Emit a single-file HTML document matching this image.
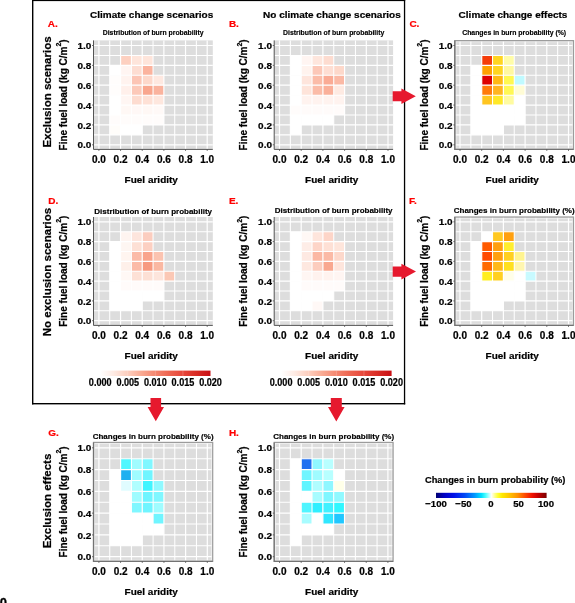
<!DOCTYPE html><html><head><meta charset="utf-8"><style>html,body{margin:0;padding:0;background:#fff;overflow:hidden}svg{display:block;will-change:transform}</style></head><body>
<svg width="575" height="603" viewBox="0 0 575 603" font-family='"Liberation Sans", sans-serif' font-weight="bold">
<defs>
<linearGradient id="gred" x1="0" x2="1" y1="0" y2="0"><stop offset="0" stop-color="#FFFFFF"/><stop offset="0.12" stop-color="#FEEBE4"/><stop offset="0.25" stop-color="#FCCDBD"/><stop offset="0.37" stop-color="#F9AB94"/><stop offset="0.5" stop-color="#F4866F"/><stop offset="0.62" stop-color="#EE6550"/><stop offset="0.75" stop-color="#E6463A"/><stop offset="0.88" stop-color="#D82A24"/><stop offset="1" stop-color="#C80E14"/></linearGradient>
<linearGradient id="gchg" x1="0" x2="1" y1="0" y2="0"><stop offset="0" stop-color="#000070"/><stop offset="0.07" stop-color="#0000C0"/><stop offset="0.16" stop-color="#0010E8"/><stop offset="0.26" stop-color="#0048F5"/><stop offset="0.35" stop-color="#0098FF"/><stop offset="0.41" stop-color="#00E0FF"/><stop offset="0.45" stop-color="#50FFFF"/><stop offset="0.5" stop-color="#FFFFFF"/><stop offset="0.53" stop-color="#FFFF90"/><stop offset="0.56" stop-color="#FFFF30"/><stop offset="0.6" stop-color="#FFE800"/><stop offset="0.67" stop-color="#FFC000"/><stop offset="0.74" stop-color="#FF9000"/><stop offset="0.8" stop-color="#FF5000"/><stop offset="0.87" stop-color="#F01000"/><stop offset="0.92" stop-color="#C80000"/><stop offset="1" stop-color="#7A0000"/></linearGradient>
</defs>
<rect width="575" height="603" fill="#fff"/>
<rect x="93.5" y="40.4" width="119.3" height="109" fill="#DDDDDD"/>
<rect x="120.56" y="55.43" width="10.83" height="9.93" fill="#FDD0C0"/>
<rect x="131.39" y="55.43" width="10.83" height="9.93" fill="#FEE5DB"/>
<rect x="142.22" y="55.43" width="10.83" height="9.93" fill="#FEE5DB"/>
<rect x="109.73" y="65.36" width="10.83" height="9.93" fill="#FFFFFF"/>
<rect x="120.56" y="65.36" width="10.83" height="9.93" fill="#FFF5F2"/>
<rect x="131.39" y="65.36" width="10.83" height="9.93" fill="#FDDDD2"/>
<rect x="142.22" y="65.36" width="10.83" height="9.93" fill="#FBB39E"/>
<rect x="109.73" y="75.29" width="10.83" height="9.93" fill="#FFFDFC"/>
<rect x="120.56" y="75.29" width="10.83" height="9.93" fill="#FFF3EF"/>
<rect x="131.39" y="75.29" width="10.83" height="9.93" fill="#FCC5B5"/>
<rect x="142.22" y="75.29" width="10.83" height="9.93" fill="#FDD8CB"/>
<rect x="153.05" y="75.29" width="10.83" height="9.93" fill="#FEE8E0"/>
<rect x="109.73" y="85.22" width="10.83" height="9.93" fill="#FFFDFC"/>
<rect x="120.56" y="85.22" width="10.83" height="9.93" fill="#FFF0EB"/>
<rect x="131.39" y="85.22" width="10.83" height="9.93" fill="#FCC9B9"/>
<rect x="142.22" y="85.22" width="10.83" height="9.93" fill="#F9A68E"/>
<rect x="153.05" y="85.22" width="10.83" height="9.93" fill="#FAB39E"/>
<rect x="109.73" y="95.15" width="10.83" height="9.93" fill="#FFFFFF"/>
<rect x="120.56" y="95.15" width="10.83" height="9.93" fill="#FFF6F3"/>
<rect x="131.39" y="95.15" width="10.83" height="9.93" fill="#FDDCD0"/>
<rect x="142.22" y="95.15" width="10.83" height="9.93" fill="#FEE1D6"/>
<rect x="153.05" y="95.15" width="10.83" height="9.93" fill="#FEE7DE"/>
<rect x="109.73" y="105.08" width="10.83" height="9.93" fill="#FFFFFF"/>
<rect x="120.56" y="105.08" width="10.83" height="9.93" fill="#FFF8F5"/>
<rect x="131.39" y="105.08" width="10.83" height="9.93" fill="#FFF8F6"/>
<rect x="142.22" y="105.08" width="10.83" height="9.93" fill="#FFF8F5"/>
<rect x="153.05" y="105.08" width="10.83" height="9.93" fill="#FFF9F7"/>
<rect x="109.73" y="115.01" width="10.83" height="9.93" fill="#FFFCFB"/>
<rect x="120.56" y="115.01" width="10.83" height="9.93" fill="#FFFCFB"/>
<rect x="131.39" y="115.01" width="10.83" height="9.93" fill="#FFFCFB"/>
<rect x="142.22" y="115.01" width="10.83" height="9.93" fill="#FFFCFB"/>
<rect x="153.05" y="115.01" width="10.83" height="9.93" fill="#FFFCFB"/>
<rect x="109.73" y="124.94" width="10.83" height="9.93" fill="#FFFDFA"/>
<rect x="120.56" y="124.94" width="10.83" height="9.93" fill="#FFFFFF"/>
<rect x="131.39" y="124.94" width="10.83" height="9.93" fill="#FFFFFF"/>
<g stroke="#FFFFFF"><line x1="98.9" y1="40.4" x2="98.9" y2="149.4" stroke-width="1.2"/><line x1="93.5" y1="144.8" x2="212.8" y2="144.8" stroke-width="1.2"/><line x1="109.73" y1="40.4" x2="109.73" y2="149.4" stroke-width="1.05"/><line x1="93.5" y1="134.87" x2="212.8" y2="134.87" stroke-width="1.05"/><line x1="120.56" y1="40.4" x2="120.56" y2="149.4" stroke-width="1.2"/><line x1="93.5" y1="124.94" x2="212.8" y2="124.94" stroke-width="1.2"/><line x1="131.39" y1="40.4" x2="131.39" y2="149.4" stroke-width="1.05"/><line x1="93.5" y1="115.01" x2="212.8" y2="115.01" stroke-width="1.05"/><line x1="142.22" y1="40.4" x2="142.22" y2="149.4" stroke-width="1.2"/><line x1="93.5" y1="105.08" x2="212.8" y2="105.08" stroke-width="1.2"/><line x1="153.05" y1="40.4" x2="153.05" y2="149.4" stroke-width="1.05"/><line x1="93.5" y1="95.15" x2="212.8" y2="95.15" stroke-width="1.05"/><line x1="163.88" y1="40.4" x2="163.88" y2="149.4" stroke-width="1.2"/><line x1="93.5" y1="85.22" x2="212.8" y2="85.22" stroke-width="1.2"/><line x1="174.71" y1="40.4" x2="174.71" y2="149.4" stroke-width="1.05"/><line x1="93.5" y1="75.29" x2="212.8" y2="75.29" stroke-width="1.05"/><line x1="185.54" y1="40.4" x2="185.54" y2="149.4" stroke-width="1.2"/><line x1="93.5" y1="65.36" x2="212.8" y2="65.36" stroke-width="1.2"/><line x1="196.37" y1="40.4" x2="196.37" y2="149.4" stroke-width="1.05"/><line x1="93.5" y1="55.43" x2="212.8" y2="55.43" stroke-width="1.05"/><line x1="207.2" y1="40.4" x2="207.2" y2="149.4" stroke-width="1.2"/><line x1="93.5" y1="45.5" x2="212.8" y2="45.5" stroke-width="1.2"/></g>
<path d="M93.5 40.4V149.4H212.8" fill="none" stroke="#555555" stroke-width="1"/>
<path d="M92 144.8H93.5M98.9 149.4V150.9M92 124.94H93.5M120.56 149.4V150.9M92 105.08H93.5M142.22 149.4V150.9M92 85.22H93.5M163.88 149.4V150.9M92 65.36H93.5M185.54 149.4V150.9M92 45.5H93.5M207.2 149.4V150.9" stroke="#4D4D4D" stroke-width="0.8"/>
<text transform="translate(91.3,148.45) scale(1,0.9)" font-size="10" text-anchor="end" fill="#000" stroke="#000" stroke-width="0.22" >0.0</text>
<text transform="translate(98.9,162.9) scale(1,1.0)" font-size="10" text-anchor="middle" fill="#000" stroke="#000" stroke-width="0.22" >0.0</text>
<text transform="translate(91.3,128.59) scale(1,0.9)" font-size="10" text-anchor="end" fill="#000" stroke="#000" stroke-width="0.22" >0.2</text>
<text transform="translate(120.56,162.9) scale(1,1.0)" font-size="10" text-anchor="middle" fill="#000" stroke="#000" stroke-width="0.22" >0.2</text>
<text transform="translate(91.3,108.73) scale(1,0.9)" font-size="10" text-anchor="end" fill="#000" stroke="#000" stroke-width="0.22" >0.4</text>
<text transform="translate(142.22,162.9) scale(1,1.0)" font-size="10" text-anchor="middle" fill="#000" stroke="#000" stroke-width="0.22" >0.4</text>
<text transform="translate(91.3,88.87) scale(1,0.9)" font-size="10" text-anchor="end" fill="#000" stroke="#000" stroke-width="0.22" >0.6</text>
<text transform="translate(163.88,162.9) scale(1,1.0)" font-size="10" text-anchor="middle" fill="#000" stroke="#000" stroke-width="0.22" >0.6</text>
<text transform="translate(91.3,69.01) scale(1,0.9)" font-size="10" text-anchor="end" fill="#000" stroke="#000" stroke-width="0.22" >0.8</text>
<text transform="translate(185.54,162.9) scale(1,1.0)" font-size="10" text-anchor="middle" fill="#000" stroke="#000" stroke-width="0.22" >0.8</text>
<text transform="translate(91.3,49.15) scale(1,0.9)" font-size="10" text-anchor="end" fill="#000" stroke="#000" stroke-width="0.22" >1.0</text>
<text transform="translate(207.2,162.9) scale(1,1.0)" font-size="10" text-anchor="middle" fill="#000" stroke="#000" stroke-width="0.22" >1.0</text>
<text transform="translate(151.25,182.8) scale(1,0.9)" font-size="10" text-anchor="middle" fill="#000" stroke="#000" stroke-width="0.22" >Fuel aridity</text>
<text transform="translate(66.5,94.9) rotate(-90)" x="0" y="0" font-size="10" text-anchor="middle" stroke="#000" stroke-width="0.22">Fine fuel load (kg C/m<tspan font-size="7" dy="-5.6">2</tspan><tspan dy="5.6">)</tspan></text>
<text transform="translate(153.15,34.8) scale(1,0.92)" font-size="6.85" text-anchor="middle" fill="#000" stroke="#000" stroke-width="0.15" >Distribution of burn probability</text>
<rect x="274.2" y="40.4" width="118.9" height="109" fill="#DDDDDD"/>
<rect x="290.35" y="55.43" width="10.85" height="9.93" fill="#FFFFFF"/>
<rect x="301.2" y="55.43" width="10.85" height="9.93" fill="#FFF5F2"/>
<rect x="312.05" y="55.43" width="10.85" height="9.93" fill="#FEE6DD"/>
<rect x="322.9" y="55.43" width="10.85" height="9.93" fill="#FDDCD0"/>
<rect x="290.35" y="65.36" width="10.85" height="9.93" fill="#FFFFFF"/>
<rect x="301.2" y="65.36" width="10.85" height="9.93" fill="#FFF3EE"/>
<rect x="312.05" y="65.36" width="10.85" height="9.93" fill="#FCC8B8"/>
<rect x="322.9" y="65.36" width="10.85" height="9.93" fill="#FEDED3"/>
<rect x="333.75" y="65.36" width="10.85" height="9.93" fill="#FDD8CA"/>
<rect x="290.35" y="75.29" width="10.85" height="9.93" fill="#FFFFFF"/>
<rect x="301.2" y="75.29" width="10.85" height="9.93" fill="#FEE5DC"/>
<rect x="312.05" y="75.29" width="10.85" height="9.93" fill="#FBBCA8"/>
<rect x="322.9" y="75.29" width="10.85" height="9.93" fill="#FAAB95"/>
<rect x="333.75" y="75.29" width="10.85" height="9.93" fill="#FBB9A5"/>
<rect x="290.35" y="85.22" width="10.85" height="9.93" fill="#FFFFFF"/>
<rect x="301.2" y="85.22" width="10.85" height="9.93" fill="#FEE4DA"/>
<rect x="312.05" y="85.22" width="10.85" height="9.93" fill="#FBBCA8"/>
<rect x="322.9" y="85.22" width="10.85" height="9.93" fill="#FAB09A"/>
<rect x="333.75" y="85.22" width="10.85" height="9.93" fill="#FEEAE2"/>
<rect x="290.35" y="95.15" width="10.85" height="9.93" fill="#FFFFFF"/>
<rect x="301.2" y="95.15" width="10.85" height="9.93" fill="#FFF3EF"/>
<rect x="312.05" y="95.15" width="10.85" height="9.93" fill="#FFF3EF"/>
<rect x="322.9" y="95.15" width="10.85" height="9.93" fill="#FFF3EF"/>
<rect x="333.75" y="95.15" width="10.85" height="9.93" fill="#FFF3EF"/>
<rect x="290.35" y="105.08" width="10.85" height="9.93" fill="#FFFCFB"/>
<rect x="301.2" y="105.08" width="10.85" height="9.93" fill="#FFFBFA"/>
<rect x="312.05" y="105.08" width="10.85" height="9.93" fill="#FFFBFA"/>
<rect x="322.9" y="105.08" width="10.85" height="9.93" fill="#FFFBFA"/>
<rect x="333.75" y="105.08" width="10.85" height="9.93" fill="#FFFBFA"/>
<rect x="290.35" y="115.01" width="10.85" height="9.93" fill="#FFFFFF"/>
<rect x="301.2" y="115.01" width="10.85" height="9.93" fill="#FFFFFF"/>
<rect x="312.05" y="115.01" width="10.85" height="9.93" fill="#FFFFFF"/>
<rect x="322.9" y="115.01" width="10.85" height="9.93" fill="#FFFFFF"/>
<rect x="290.35" y="124.94" width="10.85" height="9.93" fill="#FFFFFF"/>
<g stroke="#FFFFFF"><line x1="279.5" y1="40.4" x2="279.5" y2="149.4" stroke-width="1.2"/><line x1="274.2" y1="144.8" x2="393.1" y2="144.8" stroke-width="1.2"/><line x1="290.35" y1="40.4" x2="290.35" y2="149.4" stroke-width="1.05"/><line x1="274.2" y1="134.87" x2="393.1" y2="134.87" stroke-width="1.05"/><line x1="301.2" y1="40.4" x2="301.2" y2="149.4" stroke-width="1.2"/><line x1="274.2" y1="124.94" x2="393.1" y2="124.94" stroke-width="1.2"/><line x1="312.05" y1="40.4" x2="312.05" y2="149.4" stroke-width="1.05"/><line x1="274.2" y1="115.01" x2="393.1" y2="115.01" stroke-width="1.05"/><line x1="322.9" y1="40.4" x2="322.9" y2="149.4" stroke-width="1.2"/><line x1="274.2" y1="105.08" x2="393.1" y2="105.08" stroke-width="1.2"/><line x1="333.75" y1="40.4" x2="333.75" y2="149.4" stroke-width="1.05"/><line x1="274.2" y1="95.15" x2="393.1" y2="95.15" stroke-width="1.05"/><line x1="344.6" y1="40.4" x2="344.6" y2="149.4" stroke-width="1.2"/><line x1="274.2" y1="85.22" x2="393.1" y2="85.22" stroke-width="1.2"/><line x1="355.45" y1="40.4" x2="355.45" y2="149.4" stroke-width="1.05"/><line x1="274.2" y1="75.29" x2="393.1" y2="75.29" stroke-width="1.05"/><line x1="366.3" y1="40.4" x2="366.3" y2="149.4" stroke-width="1.2"/><line x1="274.2" y1="65.36" x2="393.1" y2="65.36" stroke-width="1.2"/><line x1="377.15" y1="40.4" x2="377.15" y2="149.4" stroke-width="1.05"/><line x1="274.2" y1="55.43" x2="393.1" y2="55.43" stroke-width="1.05"/><line x1="388" y1="40.4" x2="388" y2="149.4" stroke-width="1.2"/><line x1="274.2" y1="45.5" x2="393.1" y2="45.5" stroke-width="1.2"/></g>
<path d="M274.2 40.4V149.4H393.1" fill="none" stroke="#555555" stroke-width="1"/>
<path d="M272.7 144.8H274.2M279.5 149.4V150.9M272.7 124.94H274.2M301.2 149.4V150.9M272.7 105.08H274.2M322.9 149.4V150.9M272.7 85.22H274.2M344.6 149.4V150.9M272.7 65.36H274.2M366.3 149.4V150.9M272.7 45.5H274.2M388 149.4V150.9" stroke="#4D4D4D" stroke-width="0.8"/>
<text transform="translate(272,148.45) scale(1,0.9)" font-size="10" text-anchor="end" fill="#000" stroke="#000" stroke-width="0.22" >0.0</text>
<text transform="translate(279.5,162.9) scale(1,1.0)" font-size="10" text-anchor="middle" fill="#000" stroke="#000" stroke-width="0.22" >0.0</text>
<text transform="translate(272,128.59) scale(1,0.9)" font-size="10" text-anchor="end" fill="#000" stroke="#000" stroke-width="0.22" >0.2</text>
<text transform="translate(301.2,162.9) scale(1,1.0)" font-size="10" text-anchor="middle" fill="#000" stroke="#000" stroke-width="0.22" >0.2</text>
<text transform="translate(272,108.73) scale(1,0.9)" font-size="10" text-anchor="end" fill="#000" stroke="#000" stroke-width="0.22" >0.4</text>
<text transform="translate(322.9,162.9) scale(1,1.0)" font-size="10" text-anchor="middle" fill="#000" stroke="#000" stroke-width="0.22" >0.4</text>
<text transform="translate(272,88.87) scale(1,0.9)" font-size="10" text-anchor="end" fill="#000" stroke="#000" stroke-width="0.22" >0.6</text>
<text transform="translate(344.6,162.9) scale(1,1.0)" font-size="10" text-anchor="middle" fill="#000" stroke="#000" stroke-width="0.22" >0.6</text>
<text transform="translate(272,69.01) scale(1,0.9)" font-size="10" text-anchor="end" fill="#000" stroke="#000" stroke-width="0.22" >0.8</text>
<text transform="translate(366.3,162.9) scale(1,1.0)" font-size="10" text-anchor="middle" fill="#000" stroke="#000" stroke-width="0.22" >0.8</text>
<text transform="translate(272,49.15) scale(1,0.9)" font-size="10" text-anchor="end" fill="#000" stroke="#000" stroke-width="0.22" >1.0</text>
<text transform="translate(388,162.9) scale(1,1.0)" font-size="10" text-anchor="middle" fill="#000" stroke="#000" stroke-width="0.22" >1.0</text>
<text transform="translate(331.75,182.8) scale(1,0.9)" font-size="10" text-anchor="middle" fill="#000" stroke="#000" stroke-width="0.22" >Fuel aridity</text>
<text transform="translate(247.2,94.9) rotate(-90)" x="0" y="0" font-size="10" text-anchor="middle" stroke="#000" stroke-width="0.22">Fine fuel load (kg C/m<tspan font-size="7" dy="-5.6">2</tspan><tspan dy="5.6">)</tspan></text>
<text transform="translate(333.65,34.8) scale(1,0.92)" font-size="6.9" text-anchor="middle" fill="#000" stroke="#000" stroke-width="0.15" >Distribution of burn probability</text>
<rect x="454.8" y="40.6" width="118.7" height="108.8" fill="#DDDDDD"/>
<rect x="481.7" y="55.43" width="10.85" height="9.93" fill="#F53D0A"/>
<rect x="492.55" y="55.43" width="10.85" height="9.93" fill="#FFD520"/>
<rect x="503.4" y="55.43" width="10.85" height="9.93" fill="#FFFCA8"/>
<rect x="470.85" y="65.36" width="10.85" height="9.93" fill="#FFFFFF"/>
<rect x="481.7" y="65.36" width="10.85" height="9.93" fill="#FFA000"/>
<rect x="492.55" y="65.36" width="10.85" height="9.93" fill="#FFD520"/>
<rect x="503.4" y="65.36" width="10.85" height="9.93" fill="#FFF8A0"/>
<rect x="470.85" y="75.29" width="10.85" height="9.93" fill="#FFFFFF"/>
<rect x="481.7" y="75.29" width="10.85" height="9.93" fill="#DD0000"/>
<rect x="492.55" y="75.29" width="10.85" height="9.93" fill="#FFB814"/>
<rect x="503.4" y="75.29" width="10.85" height="9.93" fill="#FFF850"/>
<rect x="514.25" y="75.29" width="10.85" height="9.93" fill="#C0FAFF"/>
<rect x="470.85" y="85.22" width="10.85" height="9.93" fill="#FFFFFF"/>
<rect x="481.7" y="85.22" width="10.85" height="9.93" fill="#FF7A0A"/>
<rect x="492.55" y="85.22" width="10.85" height="9.93" fill="#FFB520"/>
<rect x="503.4" y="85.22" width="10.85" height="9.93" fill="#FFF855"/>
<rect x="514.25" y="85.22" width="10.85" height="9.93" fill="#FFFCD5"/>
<rect x="470.85" y="95.15" width="10.85" height="9.93" fill="#FFFFFF"/>
<rect x="481.7" y="95.15" width="10.85" height="9.93" fill="#FFC520"/>
<rect x="492.55" y="95.15" width="10.85" height="9.93" fill="#FFE828"/>
<rect x="503.4" y="95.15" width="10.85" height="9.93" fill="#FFFBA0"/>
<rect x="514.25" y="95.15" width="10.85" height="9.93" fill="#FFFFFF"/>
<rect x="470.85" y="105.08" width="10.85" height="9.93" fill="#FFFFFF"/>
<rect x="481.7" y="105.08" width="10.85" height="9.93" fill="#FFFFFF"/>
<rect x="492.55" y="105.08" width="10.85" height="9.93" fill="#FFFFFF"/>
<rect x="503.4" y="105.08" width="10.85" height="9.93" fill="#FFFFFF"/>
<rect x="514.25" y="105.08" width="10.85" height="9.93" fill="#FFFFFF"/>
<rect x="470.85" y="115.01" width="10.85" height="9.93" fill="#FFFFFF"/>
<rect x="481.7" y="115.01" width="10.85" height="9.93" fill="#FFFFFF"/>
<rect x="492.55" y="115.01" width="10.85" height="9.93" fill="#FFFFFF"/>
<rect x="503.4" y="115.01" width="10.85" height="9.93" fill="#FFFFFF"/>
<rect x="514.25" y="115.01" width="10.85" height="9.93" fill="#FFFFFF"/>
<rect x="470.85" y="124.94" width="10.85" height="9.93" fill="#FFFFFF"/>
<rect x="481.7" y="124.94" width="10.85" height="9.93" fill="#FFFFFF"/>
<rect x="492.55" y="124.94" width="10.85" height="9.93" fill="#FFFFFF"/>
<g stroke="#FFFFFF"><line x1="460" y1="40.6" x2="460" y2="149.4" stroke-width="1.2"/><line x1="454.8" y1="144.8" x2="573.5" y2="144.8" stroke-width="1.2"/><line x1="470.85" y1="40.6" x2="470.85" y2="149.4" stroke-width="1.05"/><line x1="454.8" y1="134.87" x2="573.5" y2="134.87" stroke-width="1.05"/><line x1="481.7" y1="40.6" x2="481.7" y2="149.4" stroke-width="1.2"/><line x1="454.8" y1="124.94" x2="573.5" y2="124.94" stroke-width="1.2"/><line x1="492.55" y1="40.6" x2="492.55" y2="149.4" stroke-width="1.05"/><line x1="454.8" y1="115.01" x2="573.5" y2="115.01" stroke-width="1.05"/><line x1="503.4" y1="40.6" x2="503.4" y2="149.4" stroke-width="1.2"/><line x1="454.8" y1="105.08" x2="573.5" y2="105.08" stroke-width="1.2"/><line x1="514.25" y1="40.6" x2="514.25" y2="149.4" stroke-width="1.05"/><line x1="454.8" y1="95.15" x2="573.5" y2="95.15" stroke-width="1.05"/><line x1="525.1" y1="40.6" x2="525.1" y2="149.4" stroke-width="1.2"/><line x1="454.8" y1="85.22" x2="573.5" y2="85.22" stroke-width="1.2"/><line x1="535.95" y1="40.6" x2="535.95" y2="149.4" stroke-width="1.05"/><line x1="454.8" y1="75.29" x2="573.5" y2="75.29" stroke-width="1.05"/><line x1="546.8" y1="40.6" x2="546.8" y2="149.4" stroke-width="1.2"/><line x1="454.8" y1="65.36" x2="573.5" y2="65.36" stroke-width="1.2"/><line x1="557.65" y1="40.6" x2="557.65" y2="149.4" stroke-width="1.05"/><line x1="454.8" y1="55.43" x2="573.5" y2="55.43" stroke-width="1.05"/><line x1="568.5" y1="40.6" x2="568.5" y2="149.4" stroke-width="1.2"/><line x1="454.8" y1="45.5" x2="573.5" y2="45.5" stroke-width="1.2"/></g>
<rect x="456" y="41.8" width="116.3" height="106.4" fill="none" stroke="#F4F4F4" stroke-width="0.7"/>
<rect x="454.8" y="40.6" width="118.7" height="108.8" fill="none" stroke="#9C9C9C" stroke-width="1.2"/>
<path d="M454.8 40.6V149.4H573.5" fill="none" stroke="#737373" stroke-width="1.2"/>
<path d="M453.3 144.8H454.8M460 149.4V150.9M453.3 124.94H454.8M481.7 149.4V150.9M453.3 105.08H454.8M503.4 149.4V150.9M453.3 85.22H454.8M525.1 149.4V150.9M453.3 65.36H454.8M546.8 149.4V150.9M453.3 45.5H454.8M568.5 149.4V150.9" stroke="#4D4D4D" stroke-width="0.8"/>
<text transform="translate(452.6,148.45) scale(1,0.9)" font-size="10" text-anchor="end" fill="#000" stroke="#000" stroke-width="0.22" >0.0</text>
<text transform="translate(460,162.9) scale(1,1.0)" font-size="10" text-anchor="middle" fill="#000" stroke="#000" stroke-width="0.22" >0.0</text>
<text transform="translate(452.6,128.59) scale(1,0.9)" font-size="10" text-anchor="end" fill="#000" stroke="#000" stroke-width="0.22" >0.2</text>
<text transform="translate(481.7,162.9) scale(1,1.0)" font-size="10" text-anchor="middle" fill="#000" stroke="#000" stroke-width="0.22" >0.2</text>
<text transform="translate(452.6,108.73) scale(1,0.9)" font-size="10" text-anchor="end" fill="#000" stroke="#000" stroke-width="0.22" >0.4</text>
<text transform="translate(503.4,162.9) scale(1,1.0)" font-size="10" text-anchor="middle" fill="#000" stroke="#000" stroke-width="0.22" >0.4</text>
<text transform="translate(452.6,88.87) scale(1,0.9)" font-size="10" text-anchor="end" fill="#000" stroke="#000" stroke-width="0.22" >0.6</text>
<text transform="translate(525.1,162.9) scale(1,1.0)" font-size="10" text-anchor="middle" fill="#000" stroke="#000" stroke-width="0.22" >0.6</text>
<text transform="translate(452.6,69.01) scale(1,0.9)" font-size="10" text-anchor="end" fill="#000" stroke="#000" stroke-width="0.22" >0.8</text>
<text transform="translate(546.8,162.9) scale(1,1.0)" font-size="10" text-anchor="middle" fill="#000" stroke="#000" stroke-width="0.22" >0.8</text>
<text transform="translate(452.6,49.15) scale(1,0.9)" font-size="10" text-anchor="end" fill="#000" stroke="#000" stroke-width="0.22" >1.0</text>
<text transform="translate(568.5,162.9) scale(1,1.0)" font-size="10" text-anchor="middle" fill="#000" stroke="#000" stroke-width="0.22" >1.0</text>
<text transform="translate(512.25,182.8) scale(1,0.9)" font-size="10" text-anchor="middle" fill="#000" stroke="#000" stroke-width="0.22" >Fuel aridity</text>
<text transform="translate(427.8,95) rotate(-90)" x="0" y="0" font-size="10" text-anchor="middle" stroke="#000" stroke-width="0.22">Fine fuel load (kg C/m<tspan font-size="7" dy="-5.6">2</tspan><tspan dy="5.6">)</tspan></text>
<text transform="translate(514.15,34.8) scale(1,0.92)" font-size="6.9" text-anchor="middle" fill="#000" stroke="#000" stroke-width="0.15" >Changes in burn probability (%)</text>
<rect x="93.5" y="217" width="119.3" height="108.4" fill="#DDDDDD"/>
<rect x="120.56" y="231.69" width="10.83" height="9.89" fill="#FEF4F0"/>
<rect x="131.39" y="231.69" width="10.83" height="9.89" fill="#FDE5DD"/>
<rect x="142.22" y="231.69" width="10.83" height="9.89" fill="#FBCDBF"/>
<rect x="109.73" y="241.58" width="10.83" height="9.89" fill="#FFFFFF"/>
<rect x="120.56" y="241.58" width="10.83" height="9.89" fill="#FEF6F2"/>
<rect x="131.39" y="241.58" width="10.83" height="9.89" fill="#FDE0D5"/>
<rect x="142.22" y="241.58" width="10.83" height="9.89" fill="#FCD0C2"/>
<rect x="109.73" y="251.47" width="10.83" height="9.89" fill="#FFFFFF"/>
<rect x="120.56" y="251.47" width="10.83" height="9.89" fill="#FFF5F0"/>
<rect x="131.39" y="251.47" width="10.83" height="9.89" fill="#FBBBA8"/>
<rect x="142.22" y="251.47" width="10.83" height="9.89" fill="#F9A48C"/>
<rect x="153.05" y="251.47" width="10.83" height="9.89" fill="#FBC3B0"/>
<rect x="109.73" y="261.36" width="10.83" height="9.89" fill="#FFFFFF"/>
<rect x="120.56" y="261.36" width="10.83" height="9.89" fill="#FEF0EA"/>
<rect x="131.39" y="261.36" width="10.83" height="9.89" fill="#FBBBA8"/>
<rect x="142.22" y="261.36" width="10.83" height="9.89" fill="#F79A80"/>
<rect x="153.05" y="261.36" width="10.83" height="9.89" fill="#FAB8A2"/>
<rect x="109.73" y="271.25" width="10.83" height="9.89" fill="#FFFFFF"/>
<rect x="120.56" y="271.25" width="10.83" height="9.89" fill="#FFF8F5"/>
<rect x="131.39" y="271.25" width="10.83" height="9.89" fill="#FDE1D6"/>
<rect x="142.22" y="271.25" width="10.83" height="9.89" fill="#FDE0D5"/>
<rect x="153.05" y="271.25" width="10.83" height="9.89" fill="#FDE5DC"/>
<rect x="163.88" y="271.25" width="10.83" height="9.89" fill="#FBC8B5"/>
<rect x="109.73" y="281.14" width="10.83" height="9.89" fill="#FFFFFF"/>
<rect x="120.56" y="281.14" width="10.83" height="9.89" fill="#FFFBFA"/>
<rect x="131.39" y="281.14" width="10.83" height="9.89" fill="#FFFBFA"/>
<rect x="142.22" y="281.14" width="10.83" height="9.89" fill="#FFFBFA"/>
<rect x="153.05" y="281.14" width="10.83" height="9.89" fill="#FFFBFA"/>
<rect x="109.73" y="291.03" width="10.83" height="9.89" fill="#FFFFFF"/>
<rect x="120.56" y="291.03" width="10.83" height="9.89" fill="#FFFFFF"/>
<rect x="131.39" y="291.03" width="10.83" height="9.89" fill="#FFFFFF"/>
<rect x="142.22" y="291.03" width="10.83" height="9.89" fill="#FFFFFF"/>
<rect x="153.05" y="291.03" width="10.83" height="9.89" fill="#FFFFFF"/>
<rect x="109.73" y="300.92" width="10.83" height="9.89" fill="#FFFFFF"/>
<rect x="120.56" y="300.92" width="10.83" height="9.89" fill="#FFFFFF"/>
<rect x="131.39" y="300.92" width="10.83" height="9.89" fill="#FFFFFF"/>
<g stroke="#FFFFFF"><line x1="98.9" y1="217" x2="98.9" y2="325.4" stroke-width="1.2"/><line x1="93.5" y1="320.7" x2="212.8" y2="320.7" stroke-width="1.2"/><line x1="109.73" y1="217" x2="109.73" y2="325.4" stroke-width="1.05"/><line x1="93.5" y1="310.81" x2="212.8" y2="310.81" stroke-width="1.05"/><line x1="120.56" y1="217" x2="120.56" y2="325.4" stroke-width="1.2"/><line x1="93.5" y1="300.92" x2="212.8" y2="300.92" stroke-width="1.2"/><line x1="131.39" y1="217" x2="131.39" y2="325.4" stroke-width="1.05"/><line x1="93.5" y1="291.03" x2="212.8" y2="291.03" stroke-width="1.05"/><line x1="142.22" y1="217" x2="142.22" y2="325.4" stroke-width="1.2"/><line x1="93.5" y1="281.14" x2="212.8" y2="281.14" stroke-width="1.2"/><line x1="153.05" y1="217" x2="153.05" y2="325.4" stroke-width="1.05"/><line x1="93.5" y1="271.25" x2="212.8" y2="271.25" stroke-width="1.05"/><line x1="163.88" y1="217" x2="163.88" y2="325.4" stroke-width="1.2"/><line x1="93.5" y1="261.36" x2="212.8" y2="261.36" stroke-width="1.2"/><line x1="174.71" y1="217" x2="174.71" y2="325.4" stroke-width="1.05"/><line x1="93.5" y1="251.47" x2="212.8" y2="251.47" stroke-width="1.05"/><line x1="185.54" y1="217" x2="185.54" y2="325.4" stroke-width="1.2"/><line x1="93.5" y1="241.58" x2="212.8" y2="241.58" stroke-width="1.2"/><line x1="196.37" y1="217" x2="196.37" y2="325.4" stroke-width="1.05"/><line x1="93.5" y1="231.69" x2="212.8" y2="231.69" stroke-width="1.05"/><line x1="207.2" y1="217" x2="207.2" y2="325.4" stroke-width="1.2"/><line x1="93.5" y1="221.8" x2="212.8" y2="221.8" stroke-width="1.2"/></g>
<path d="M93.5 217V325.4H212.8" fill="none" stroke="#555555" stroke-width="1"/>
<path d="M92 320.7H93.5M98.9 325.4V326.9M92 300.92H93.5M120.56 325.4V326.9M92 281.14H93.5M142.22 325.4V326.9M92 261.36H93.5M163.88 325.4V326.9M92 241.58H93.5M185.54 325.4V326.9M92 221.8H93.5M207.2 325.4V326.9" stroke="#4D4D4D" stroke-width="0.8"/>
<text transform="translate(91.3,324.35) scale(1,0.9)" font-size="10" text-anchor="end" fill="#000" stroke="#000" stroke-width="0.22" >0.0</text>
<text transform="translate(98.9,338.9) scale(1,1.0)" font-size="10" text-anchor="middle" fill="#000" stroke="#000" stroke-width="0.22" >0.0</text>
<text transform="translate(91.3,304.57) scale(1,0.9)" font-size="10" text-anchor="end" fill="#000" stroke="#000" stroke-width="0.22" >0.2</text>
<text transform="translate(120.56,338.9) scale(1,1.0)" font-size="10" text-anchor="middle" fill="#000" stroke="#000" stroke-width="0.22" >0.2</text>
<text transform="translate(91.3,284.79) scale(1,0.9)" font-size="10" text-anchor="end" fill="#000" stroke="#000" stroke-width="0.22" >0.4</text>
<text transform="translate(142.22,338.9) scale(1,1.0)" font-size="10" text-anchor="middle" fill="#000" stroke="#000" stroke-width="0.22" >0.4</text>
<text transform="translate(91.3,265.01) scale(1,0.9)" font-size="10" text-anchor="end" fill="#000" stroke="#000" stroke-width="0.22" >0.6</text>
<text transform="translate(163.88,338.9) scale(1,1.0)" font-size="10" text-anchor="middle" fill="#000" stroke="#000" stroke-width="0.22" >0.6</text>
<text transform="translate(91.3,245.23) scale(1,0.9)" font-size="10" text-anchor="end" fill="#000" stroke="#000" stroke-width="0.22" >0.8</text>
<text transform="translate(185.54,338.9) scale(1,1.0)" font-size="10" text-anchor="middle" fill="#000" stroke="#000" stroke-width="0.22" >0.8</text>
<text transform="translate(91.3,225.45) scale(1,0.9)" font-size="10" text-anchor="end" fill="#000" stroke="#000" stroke-width="0.22" >1.0</text>
<text transform="translate(207.2,338.9) scale(1,1.0)" font-size="10" text-anchor="middle" fill="#000" stroke="#000" stroke-width="0.22" >1.0</text>
<text transform="translate(151.25,358.8) scale(1,0.9)" font-size="10" text-anchor="middle" fill="#000" stroke="#000" stroke-width="0.22" >Fuel aridity</text>
<text transform="translate(66.5,271.2) rotate(-90)" x="0" y="0" font-size="10" text-anchor="middle" stroke="#000" stroke-width="0.22">Fine fuel load (kg C/m<tspan font-size="7" dy="-5.6">2</tspan><tspan dy="5.6">)</tspan></text>
<text transform="translate(153.15,213.5) scale(1,1.0)" font-size="8.0" text-anchor="middle" fill="#000" stroke="#000" stroke-width="0.18" >Distribution of burn probability</text>
<rect x="274.2" y="217" width="118.9" height="108.4" fill="#DDDDDD"/>
<rect x="290.35" y="231.69" width="10.85" height="9.89" fill="#FFFFFF"/>
<rect x="301.2" y="231.69" width="10.85" height="9.89" fill="#FFF8F5"/>
<rect x="312.05" y="231.69" width="10.85" height="9.89" fill="#FEE5DC"/>
<rect x="322.9" y="231.69" width="10.85" height="9.89" fill="#FDD5C8"/>
<rect x="290.35" y="241.58" width="10.85" height="9.89" fill="#FFFFFF"/>
<rect x="301.2" y="241.58" width="10.85" height="9.89" fill="#FEEDE7"/>
<rect x="312.05" y="241.58" width="10.85" height="9.89" fill="#FDD5C8"/>
<rect x="322.9" y="241.58" width="10.85" height="9.89" fill="#FEE0D5"/>
<rect x="333.75" y="241.58" width="10.85" height="9.89" fill="#FEE5DB"/>
<rect x="290.35" y="251.47" width="10.85" height="9.89" fill="#FFFFFF"/>
<rect x="301.2" y="251.47" width="10.85" height="9.89" fill="#FEE9E2"/>
<rect x="312.05" y="251.47" width="10.85" height="9.89" fill="#FBB8A4"/>
<rect x="322.9" y="251.47" width="10.85" height="9.89" fill="#FBBAA6"/>
<rect x="333.75" y="251.47" width="10.85" height="9.89" fill="#FDD8CB"/>
<rect x="290.35" y="261.36" width="10.85" height="9.89" fill="#FFFFFF"/>
<rect x="301.2" y="261.36" width="10.85" height="9.89" fill="#FEE8E0"/>
<rect x="312.05" y="261.36" width="10.85" height="9.89" fill="#FCCDBE"/>
<rect x="322.9" y="261.36" width="10.85" height="9.89" fill="#F9A890"/>
<rect x="333.75" y="261.36" width="10.85" height="9.89" fill="#FEE5DC"/>
<rect x="290.35" y="271.25" width="10.85" height="9.89" fill="#FFFFFF"/>
<rect x="301.2" y="271.25" width="10.85" height="9.89" fill="#FFF6F3"/>
<rect x="312.05" y="271.25" width="10.85" height="9.89" fill="#FFF2EE"/>
<rect x="322.9" y="271.25" width="10.85" height="9.89" fill="#FFF3EF"/>
<rect x="333.75" y="271.25" width="10.85" height="9.89" fill="#FFF5F2"/>
<rect x="290.35" y="281.14" width="10.85" height="9.89" fill="#FFFFFF"/>
<rect x="301.2" y="281.14" width="10.85" height="9.89" fill="#FFFBFA"/>
<rect x="312.05" y="281.14" width="10.85" height="9.89" fill="#FFFBFA"/>
<rect x="322.9" y="281.14" width="10.85" height="9.89" fill="#FFFBFA"/>
<rect x="333.75" y="281.14" width="10.85" height="9.89" fill="#FFFBFA"/>
<rect x="290.35" y="291.03" width="10.85" height="9.89" fill="#FFFFFF"/>
<rect x="301.2" y="291.03" width="10.85" height="9.89" fill="#FFFFFF"/>
<rect x="312.05" y="291.03" width="10.85" height="9.89" fill="#FFFFFF"/>
<rect x="322.9" y="291.03" width="10.85" height="9.89" fill="#FFFFFF"/>
<rect x="290.35" y="300.92" width="10.85" height="9.89" fill="#FFFFFF"/>
<rect x="301.2" y="300.92" width="10.85" height="9.89" fill="#FFFFFF"/>
<rect x="312.05" y="300.92" width="10.85" height="9.89" fill="#FFF8F6"/>
<g stroke="#FFFFFF"><line x1="279.5" y1="217" x2="279.5" y2="325.4" stroke-width="1.2"/><line x1="274.2" y1="320.7" x2="393.1" y2="320.7" stroke-width="1.2"/><line x1="290.35" y1="217" x2="290.35" y2="325.4" stroke-width="1.05"/><line x1="274.2" y1="310.81" x2="393.1" y2="310.81" stroke-width="1.05"/><line x1="301.2" y1="217" x2="301.2" y2="325.4" stroke-width="1.2"/><line x1="274.2" y1="300.92" x2="393.1" y2="300.92" stroke-width="1.2"/><line x1="312.05" y1="217" x2="312.05" y2="325.4" stroke-width="1.05"/><line x1="274.2" y1="291.03" x2="393.1" y2="291.03" stroke-width="1.05"/><line x1="322.9" y1="217" x2="322.9" y2="325.4" stroke-width="1.2"/><line x1="274.2" y1="281.14" x2="393.1" y2="281.14" stroke-width="1.2"/><line x1="333.75" y1="217" x2="333.75" y2="325.4" stroke-width="1.05"/><line x1="274.2" y1="271.25" x2="393.1" y2="271.25" stroke-width="1.05"/><line x1="344.6" y1="217" x2="344.6" y2="325.4" stroke-width="1.2"/><line x1="274.2" y1="261.36" x2="393.1" y2="261.36" stroke-width="1.2"/><line x1="355.45" y1="217" x2="355.45" y2="325.4" stroke-width="1.05"/><line x1="274.2" y1="251.47" x2="393.1" y2="251.47" stroke-width="1.05"/><line x1="366.3" y1="217" x2="366.3" y2="325.4" stroke-width="1.2"/><line x1="274.2" y1="241.58" x2="393.1" y2="241.58" stroke-width="1.2"/><line x1="377.15" y1="217" x2="377.15" y2="325.4" stroke-width="1.05"/><line x1="274.2" y1="231.69" x2="393.1" y2="231.69" stroke-width="1.05"/><line x1="388" y1="217" x2="388" y2="325.4" stroke-width="1.2"/><line x1="274.2" y1="221.8" x2="393.1" y2="221.8" stroke-width="1.2"/></g>
<path d="M274.2 217V325.4H393.1" fill="none" stroke="#555555" stroke-width="1"/>
<path d="M272.7 320.7H274.2M279.5 325.4V326.9M272.7 300.92H274.2M301.2 325.4V326.9M272.7 281.14H274.2M322.9 325.4V326.9M272.7 261.36H274.2M344.6 325.4V326.9M272.7 241.58H274.2M366.3 325.4V326.9M272.7 221.8H274.2M388 325.4V326.9" stroke="#4D4D4D" stroke-width="0.8"/>
<text transform="translate(272,324.35) scale(1,0.9)" font-size="10" text-anchor="end" fill="#000" stroke="#000" stroke-width="0.22" >0.0</text>
<text transform="translate(279.5,338.9) scale(1,1.0)" font-size="10" text-anchor="middle" fill="#000" stroke="#000" stroke-width="0.22" >0.0</text>
<text transform="translate(272,304.57) scale(1,0.9)" font-size="10" text-anchor="end" fill="#000" stroke="#000" stroke-width="0.22" >0.2</text>
<text transform="translate(301.2,338.9) scale(1,1.0)" font-size="10" text-anchor="middle" fill="#000" stroke="#000" stroke-width="0.22" >0.2</text>
<text transform="translate(272,284.79) scale(1,0.9)" font-size="10" text-anchor="end" fill="#000" stroke="#000" stroke-width="0.22" >0.4</text>
<text transform="translate(322.9,338.9) scale(1,1.0)" font-size="10" text-anchor="middle" fill="#000" stroke="#000" stroke-width="0.22" >0.4</text>
<text transform="translate(272,265.01) scale(1,0.9)" font-size="10" text-anchor="end" fill="#000" stroke="#000" stroke-width="0.22" >0.6</text>
<text transform="translate(344.6,338.9) scale(1,1.0)" font-size="10" text-anchor="middle" fill="#000" stroke="#000" stroke-width="0.22" >0.6</text>
<text transform="translate(272,245.23) scale(1,0.9)" font-size="10" text-anchor="end" fill="#000" stroke="#000" stroke-width="0.22" >0.8</text>
<text transform="translate(366.3,338.9) scale(1,1.0)" font-size="10" text-anchor="middle" fill="#000" stroke="#000" stroke-width="0.22" >0.8</text>
<text transform="translate(272,225.45) scale(1,0.9)" font-size="10" text-anchor="end" fill="#000" stroke="#000" stroke-width="0.22" >1.0</text>
<text transform="translate(388,338.9) scale(1,1.0)" font-size="10" text-anchor="middle" fill="#000" stroke="#000" stroke-width="0.22" >1.0</text>
<text transform="translate(331.75,358.8) scale(1,0.9)" font-size="10" text-anchor="middle" fill="#000" stroke="#000" stroke-width="0.22" >Fuel aridity</text>
<text transform="translate(247.2,271.2) rotate(-90)" x="0" y="0" font-size="10" text-anchor="middle" stroke="#000" stroke-width="0.22">Fine fuel load (kg C/m<tspan font-size="7" dy="-5.6">2</tspan><tspan dy="5.6">)</tspan></text>
<text transform="translate(333.65,213.3) scale(1,1.0)" font-size="8.0" text-anchor="middle" fill="#000" stroke="#000" stroke-width="0.18" >Distribution of burn probability</text>
<rect x="454.8" y="217" width="118.7" height="108.4" fill="#DDDDDD"/>
<rect x="481.7" y="231.69" width="10.85" height="9.89" fill="#FFFFFF"/>
<rect x="492.55" y="231.69" width="10.85" height="9.89" fill="#FFC820"/>
<rect x="503.4" y="231.69" width="10.85" height="9.89" fill="#FFA010"/>
<rect x="470.85" y="241.58" width="10.85" height="9.89" fill="#FFFFFF"/>
<rect x="481.7" y="241.58" width="10.85" height="9.89" fill="#FF5A00"/>
<rect x="492.55" y="241.58" width="10.85" height="9.89" fill="#FFA010"/>
<rect x="503.4" y="241.58" width="10.85" height="9.89" fill="#FFEE30"/>
<rect x="470.85" y="251.47" width="10.85" height="9.89" fill="#FFFFFF"/>
<rect x="481.7" y="251.47" width="10.85" height="9.89" fill="#FF4A00"/>
<rect x="492.55" y="251.47" width="10.85" height="9.89" fill="#FFA010"/>
<rect x="503.4" y="251.47" width="10.85" height="9.89" fill="#FFD020"/>
<rect x="514.25" y="251.47" width="10.85" height="9.89" fill="#FFF490"/>
<rect x="470.85" y="261.36" width="10.85" height="9.89" fill="#FFFFFF"/>
<rect x="481.7" y="261.36" width="10.85" height="9.89" fill="#FF6A00"/>
<rect x="492.55" y="261.36" width="10.85" height="9.89" fill="#FFB818"/>
<rect x="503.4" y="261.36" width="10.85" height="9.89" fill="#FFE020"/>
<rect x="514.25" y="261.36" width="10.85" height="9.89" fill="#FFF6B0"/>
<rect x="470.85" y="271.25" width="10.85" height="9.89" fill="#FFFFFF"/>
<rect x="481.7" y="271.25" width="10.85" height="9.89" fill="#FFEE20"/>
<rect x="492.55" y="271.25" width="10.85" height="9.89" fill="#FFD020"/>
<rect x="503.4" y="271.25" width="10.85" height="9.89" fill="#FFFEE8"/>
<rect x="514.25" y="271.25" width="10.85" height="9.89" fill="#FFFFFF"/>
<rect x="525.1" y="271.25" width="10.85" height="9.89" fill="#C8FAFF"/>
<rect x="470.85" y="281.14" width="10.85" height="9.89" fill="#FFFFFF"/>
<rect x="481.7" y="281.14" width="10.85" height="9.89" fill="#FFFFFF"/>
<rect x="492.55" y="281.14" width="10.85" height="9.89" fill="#FFFFFF"/>
<rect x="503.4" y="281.14" width="10.85" height="9.89" fill="#FFFFFF"/>
<rect x="514.25" y="281.14" width="10.85" height="9.89" fill="#FFFFFF"/>
<rect x="470.85" y="291.03" width="10.85" height="9.89" fill="#FFFFFF"/>
<rect x="481.7" y="291.03" width="10.85" height="9.89" fill="#FFFFFF"/>
<rect x="492.55" y="291.03" width="10.85" height="9.89" fill="#FFFFFF"/>
<rect x="503.4" y="291.03" width="10.85" height="9.89" fill="#FFFFFF"/>
<rect x="514.25" y="291.03" width="10.85" height="9.89" fill="#FFFFFF"/>
<rect x="470.85" y="300.92" width="10.85" height="9.89" fill="#FFFFFF"/>
<rect x="481.7" y="300.92" width="10.85" height="9.89" fill="#FFFFFF"/>
<rect x="492.55" y="300.92" width="10.85" height="9.89" fill="#FFFFFF"/>
<g stroke="#FFFFFF"><line x1="460" y1="217" x2="460" y2="325.4" stroke-width="1.2"/><line x1="454.8" y1="320.7" x2="573.5" y2="320.7" stroke-width="1.2"/><line x1="470.85" y1="217" x2="470.85" y2="325.4" stroke-width="1.05"/><line x1="454.8" y1="310.81" x2="573.5" y2="310.81" stroke-width="1.05"/><line x1="481.7" y1="217" x2="481.7" y2="325.4" stroke-width="1.2"/><line x1="454.8" y1="300.92" x2="573.5" y2="300.92" stroke-width="1.2"/><line x1="492.55" y1="217" x2="492.55" y2="325.4" stroke-width="1.05"/><line x1="454.8" y1="291.03" x2="573.5" y2="291.03" stroke-width="1.05"/><line x1="503.4" y1="217" x2="503.4" y2="325.4" stroke-width="1.2"/><line x1="454.8" y1="281.14" x2="573.5" y2="281.14" stroke-width="1.2"/><line x1="514.25" y1="217" x2="514.25" y2="325.4" stroke-width="1.05"/><line x1="454.8" y1="271.25" x2="573.5" y2="271.25" stroke-width="1.05"/><line x1="525.1" y1="217" x2="525.1" y2="325.4" stroke-width="1.2"/><line x1="454.8" y1="261.36" x2="573.5" y2="261.36" stroke-width="1.2"/><line x1="535.95" y1="217" x2="535.95" y2="325.4" stroke-width="1.05"/><line x1="454.8" y1="251.47" x2="573.5" y2="251.47" stroke-width="1.05"/><line x1="546.8" y1="217" x2="546.8" y2="325.4" stroke-width="1.2"/><line x1="454.8" y1="241.58" x2="573.5" y2="241.58" stroke-width="1.2"/><line x1="557.65" y1="217" x2="557.65" y2="325.4" stroke-width="1.05"/><line x1="454.8" y1="231.69" x2="573.5" y2="231.69" stroke-width="1.05"/><line x1="568.5" y1="217" x2="568.5" y2="325.4" stroke-width="1.2"/><line x1="454.8" y1="221.8" x2="573.5" y2="221.8" stroke-width="1.2"/></g>
<rect x="456" y="218.2" width="116.3" height="106" fill="none" stroke="#F4F4F4" stroke-width="0.7"/>
<rect x="454.8" y="217" width="118.7" height="108.4" fill="none" stroke="#9C9C9C" stroke-width="1.2"/>
<path d="M454.8 217V325.4H573.5" fill="none" stroke="#737373" stroke-width="1.2"/>
<path d="M453.3 320.7H454.8M460 325.4V326.9M453.3 300.92H454.8M481.7 325.4V326.9M453.3 281.14H454.8M503.4 325.4V326.9M453.3 261.36H454.8M525.1 325.4V326.9M453.3 241.58H454.8M546.8 325.4V326.9M453.3 221.8H454.8M568.5 325.4V326.9" stroke="#4D4D4D" stroke-width="0.8"/>
<text transform="translate(452.6,324.35) scale(1,0.9)" font-size="10" text-anchor="end" fill="#000" stroke="#000" stroke-width="0.22" >0.0</text>
<text transform="translate(460,338.9) scale(1,1.0)" font-size="10" text-anchor="middle" fill="#000" stroke="#000" stroke-width="0.22" >0.0</text>
<text transform="translate(452.6,304.57) scale(1,0.9)" font-size="10" text-anchor="end" fill="#000" stroke="#000" stroke-width="0.22" >0.2</text>
<text transform="translate(481.7,338.9) scale(1,1.0)" font-size="10" text-anchor="middle" fill="#000" stroke="#000" stroke-width="0.22" >0.2</text>
<text transform="translate(452.6,284.79) scale(1,0.9)" font-size="10" text-anchor="end" fill="#000" stroke="#000" stroke-width="0.22" >0.4</text>
<text transform="translate(503.4,338.9) scale(1,1.0)" font-size="10" text-anchor="middle" fill="#000" stroke="#000" stroke-width="0.22" >0.4</text>
<text transform="translate(452.6,265.01) scale(1,0.9)" font-size="10" text-anchor="end" fill="#000" stroke="#000" stroke-width="0.22" >0.6</text>
<text transform="translate(525.1,338.9) scale(1,1.0)" font-size="10" text-anchor="middle" fill="#000" stroke="#000" stroke-width="0.22" >0.6</text>
<text transform="translate(452.6,245.23) scale(1,0.9)" font-size="10" text-anchor="end" fill="#000" stroke="#000" stroke-width="0.22" >0.8</text>
<text transform="translate(546.8,338.9) scale(1,1.0)" font-size="10" text-anchor="middle" fill="#000" stroke="#000" stroke-width="0.22" >0.8</text>
<text transform="translate(452.6,225.45) scale(1,0.9)" font-size="10" text-anchor="end" fill="#000" stroke="#000" stroke-width="0.22" >1.0</text>
<text transform="translate(568.5,338.9) scale(1,1.0)" font-size="10" text-anchor="middle" fill="#000" stroke="#000" stroke-width="0.22" >1.0</text>
<text transform="translate(512.25,358.8) scale(1,0.9)" font-size="10" text-anchor="middle" fill="#000" stroke="#000" stroke-width="0.22" >Fuel aridity</text>
<text transform="translate(427.8,271.2) rotate(-90)" x="0" y="0" font-size="10" text-anchor="middle" stroke="#000" stroke-width="0.22">Fine fuel load (kg C/m<tspan font-size="7" dy="-5.6">2</tspan><tspan dy="5.6">)</tspan></text>
<text transform="translate(514.15,213.3) scale(1,1.0)" font-size="8.0" text-anchor="middle" fill="#000" stroke="#000" stroke-width="0.18" >Changes in burn probability (%)</text>
<rect x="93.5" y="442.4" width="119.2" height="119" fill="#DDDDDD"/>
<rect x="120.58" y="458.69" width="10.84" height="10.89" fill="#50F7FF"/>
<rect x="131.42" y="458.69" width="10.84" height="10.89" fill="#A0FCFF"/>
<rect x="142.26" y="458.69" width="10.84" height="10.89" fill="#80F7FF"/>
<rect x="109.74" y="469.58" width="10.84" height="10.89" fill="#FFFFFF"/>
<rect x="120.58" y="469.58" width="10.84" height="10.89" fill="#20B0F0"/>
<rect x="131.42" y="469.58" width="10.84" height="10.89" fill="#A0FCFF"/>
<rect x="142.26" y="469.58" width="10.84" height="10.89" fill="#70F5FF"/>
<rect x="109.74" y="480.47" width="10.84" height="10.89" fill="#FFFFFF"/>
<rect x="120.58" y="480.47" width="10.84" height="10.89" fill="#E0FCFF"/>
<rect x="131.42" y="480.47" width="10.84" height="10.89" fill="#B0FEFF"/>
<rect x="142.26" y="480.47" width="10.84" height="10.89" fill="#40F5FF"/>
<rect x="153.1" y="480.47" width="10.84" height="10.89" fill="#90F9FF"/>
<rect x="109.74" y="491.36" width="10.84" height="10.89" fill="#FFFFFF"/>
<rect x="120.58" y="491.36" width="10.84" height="10.89" fill="#FFFFFF"/>
<rect x="131.42" y="491.36" width="10.84" height="10.89" fill="#A0FCFF"/>
<rect x="142.26" y="491.36" width="10.84" height="10.89" fill="#70F5FF"/>
<rect x="153.1" y="491.36" width="10.84" height="10.89" fill="#80F7FF"/>
<rect x="109.74" y="502.25" width="10.84" height="10.89" fill="#FFFFFF"/>
<rect x="120.58" y="502.25" width="10.84" height="10.89" fill="#FFFFFF"/>
<rect x="131.42" y="502.25" width="10.84" height="10.89" fill="#80F7FF"/>
<rect x="142.26" y="502.25" width="10.84" height="10.89" fill="#70F5FF"/>
<rect x="153.1" y="502.25" width="10.84" height="10.89" fill="#A0FCFF"/>
<rect x="109.74" y="513.14" width="10.84" height="10.89" fill="#FFFFFF"/>
<rect x="120.58" y="513.14" width="10.84" height="10.89" fill="#FFFFFF"/>
<rect x="131.42" y="513.14" width="10.84" height="10.89" fill="#FFFFFF"/>
<rect x="142.26" y="513.14" width="10.84" height="10.89" fill="#FFFFFF"/>
<rect x="153.1" y="513.14" width="10.84" height="10.89" fill="#70F5FF"/>
<rect x="109.74" y="524.03" width="10.84" height="10.89" fill="#FFFFFF"/>
<rect x="120.58" y="524.03" width="10.84" height="10.89" fill="#FFFFFF"/>
<rect x="131.42" y="524.03" width="10.84" height="10.89" fill="#FFFFFF"/>
<rect x="142.26" y="524.03" width="10.84" height="10.89" fill="#FFFFFF"/>
<rect x="153.1" y="524.03" width="10.84" height="10.89" fill="#FFFFFF"/>
<rect x="109.74" y="534.92" width="10.84" height="10.89" fill="#FFFFFF"/>
<rect x="120.58" y="534.92" width="10.84" height="10.89" fill="#FFFFFF"/>
<rect x="131.42" y="534.92" width="10.84" height="10.89" fill="#FFFFFF"/>
<g stroke="#FFFFFF"><line x1="98.9" y1="442.4" x2="98.9" y2="561.4" stroke-width="1.2"/><line x1="93.5" y1="556.7" x2="212.7" y2="556.7" stroke-width="1.2"/><line x1="109.74" y1="442.4" x2="109.74" y2="561.4" stroke-width="1.05"/><line x1="93.5" y1="545.81" x2="212.7" y2="545.81" stroke-width="1.05"/><line x1="120.58" y1="442.4" x2="120.58" y2="561.4" stroke-width="1.2"/><line x1="93.5" y1="534.92" x2="212.7" y2="534.92" stroke-width="1.2"/><line x1="131.42" y1="442.4" x2="131.42" y2="561.4" stroke-width="1.05"/><line x1="93.5" y1="524.03" x2="212.7" y2="524.03" stroke-width="1.05"/><line x1="142.26" y1="442.4" x2="142.26" y2="561.4" stroke-width="1.2"/><line x1="93.5" y1="513.14" x2="212.7" y2="513.14" stroke-width="1.2"/><line x1="153.1" y1="442.4" x2="153.1" y2="561.4" stroke-width="1.05"/><line x1="93.5" y1="502.25" x2="212.7" y2="502.25" stroke-width="1.05"/><line x1="163.94" y1="442.4" x2="163.94" y2="561.4" stroke-width="1.2"/><line x1="93.5" y1="491.36" x2="212.7" y2="491.36" stroke-width="1.2"/><line x1="174.78" y1="442.4" x2="174.78" y2="561.4" stroke-width="1.05"/><line x1="93.5" y1="480.47" x2="212.7" y2="480.47" stroke-width="1.05"/><line x1="185.62" y1="442.4" x2="185.62" y2="561.4" stroke-width="1.2"/><line x1="93.5" y1="469.58" x2="212.7" y2="469.58" stroke-width="1.2"/><line x1="196.46" y1="442.4" x2="196.46" y2="561.4" stroke-width="1.05"/><line x1="93.5" y1="458.69" x2="212.7" y2="458.69" stroke-width="1.05"/><line x1="207.3" y1="442.4" x2="207.3" y2="561.4" stroke-width="1.2"/><line x1="93.5" y1="447.8" x2="212.7" y2="447.8" stroke-width="1.2"/></g>
<rect x="94.7" y="443.6" width="116.8" height="116.6" fill="none" stroke="#F4F4F4" stroke-width="0.7"/>
<rect x="93.5" y="442.4" width="119.2" height="119" fill="none" stroke="#9C9C9C" stroke-width="1.2"/>
<path d="M93.5 442.4V561.4H212.7" fill="none" stroke="#737373" stroke-width="1.2"/>
<path d="M92 556.7H93.5M98.9 561.4V562.9M92 534.92H93.5M120.58 561.4V562.9M92 513.14H93.5M142.26 561.4V562.9M92 491.36H93.5M163.94 561.4V562.9M92 469.58H93.5M185.62 561.4V562.9M92 447.8H93.5M207.3 561.4V562.9" stroke="#4D4D4D" stroke-width="0.8"/>
<text transform="translate(91.3,560.35) scale(1,0.9)" font-size="10" text-anchor="end" fill="#000" stroke="#000" stroke-width="0.22" >0.0</text>
<text transform="translate(98.9,574.9) scale(1,1.0)" font-size="10" text-anchor="middle" fill="#000" stroke="#000" stroke-width="0.22" >0.0</text>
<text transform="translate(91.3,538.57) scale(1,0.9)" font-size="10" text-anchor="end" fill="#000" stroke="#000" stroke-width="0.22" >0.2</text>
<text transform="translate(120.58,574.9) scale(1,1.0)" font-size="10" text-anchor="middle" fill="#000" stroke="#000" stroke-width="0.22" >0.2</text>
<text transform="translate(91.3,516.79) scale(1,0.9)" font-size="10" text-anchor="end" fill="#000" stroke="#000" stroke-width="0.22" >0.4</text>
<text transform="translate(142.26,574.9) scale(1,1.0)" font-size="10" text-anchor="middle" fill="#000" stroke="#000" stroke-width="0.22" >0.4</text>
<text transform="translate(91.3,495.01) scale(1,0.9)" font-size="10" text-anchor="end" fill="#000" stroke="#000" stroke-width="0.22" >0.6</text>
<text transform="translate(163.94,574.9) scale(1,1.0)" font-size="10" text-anchor="middle" fill="#000" stroke="#000" stroke-width="0.22" >0.6</text>
<text transform="translate(91.3,473.23) scale(1,0.9)" font-size="10" text-anchor="end" fill="#000" stroke="#000" stroke-width="0.22" >0.8</text>
<text transform="translate(185.62,574.9) scale(1,1.0)" font-size="10" text-anchor="middle" fill="#000" stroke="#000" stroke-width="0.22" >0.8</text>
<text transform="translate(91.3,451.45) scale(1,0.9)" font-size="10" text-anchor="end" fill="#000" stroke="#000" stroke-width="0.22" >1.0</text>
<text transform="translate(207.3,574.9) scale(1,1.0)" font-size="10" text-anchor="middle" fill="#000" stroke="#000" stroke-width="0.22" >1.0</text>
<text transform="translate(151.2,594.8) scale(1,0.9)" font-size="10" text-anchor="middle" fill="#000" stroke="#000" stroke-width="0.22" >Fuel aridity</text>
<text transform="translate(66.5,501.9) rotate(-90)" x="0" y="0" font-size="10" text-anchor="middle" stroke="#000" stroke-width="0.22">Fine fuel load (kg C/m<tspan font-size="7" dy="-5.6">2</tspan><tspan dy="5.6">)</tspan></text>
<text transform="translate(153.1,439.2) scale(1,1.0)" font-size="8.0" text-anchor="middle" fill="#000" stroke="#000" stroke-width="0.18" >Changes in burn probability (%)</text>
<rect x="274.2" y="442.4" width="118.9" height="119" fill="#DDDDDD"/>
<rect x="290.34" y="458.69" width="10.84" height="10.89" fill="#FFFFFF"/>
<rect x="301.18" y="458.69" width="10.84" height="10.89" fill="#2070F0"/>
<rect x="312.02" y="458.69" width="10.84" height="10.89" fill="#90F7FF"/>
<rect x="322.86" y="458.69" width="10.84" height="10.89" fill="#B8FFFF"/>
<rect x="290.34" y="469.58" width="10.84" height="10.89" fill="#FFFFFF"/>
<rect x="301.18" y="469.58" width="10.84" height="10.89" fill="#70F5FF"/>
<rect x="312.02" y="469.58" width="10.84" height="10.89" fill="#A0FBFF"/>
<rect x="322.86" y="469.58" width="10.84" height="10.89" fill="#B8FFFF"/>
<rect x="333.7" y="469.58" width="10.84" height="10.89" fill="#FFFFFF"/>
<rect x="290.34" y="480.47" width="10.84" height="10.89" fill="#FFFFFF"/>
<rect x="301.18" y="480.47" width="10.84" height="10.89" fill="#60F5FF"/>
<rect x="312.02" y="480.47" width="10.84" height="10.89" fill="#B0FDFF"/>
<rect x="322.86" y="480.47" width="10.84" height="10.89" fill="#90F7FF"/>
<rect x="333.7" y="480.47" width="10.84" height="10.89" fill="#FFFFE8"/>
<rect x="290.34" y="491.36" width="10.84" height="10.89" fill="#FFFFFF"/>
<rect x="301.18" y="491.36" width="10.84" height="10.89" fill="#FFFFFF"/>
<rect x="312.02" y="491.36" width="10.84" height="10.89" fill="#A8FCFF"/>
<rect x="322.86" y="491.36" width="10.84" height="10.89" fill="#80F7FF"/>
<rect x="333.7" y="491.36" width="10.84" height="10.89" fill="#90F9FF"/>
<rect x="290.34" y="502.25" width="10.84" height="10.89" fill="#FFFFFF"/>
<rect x="301.18" y="502.25" width="10.84" height="10.89" fill="#50F5FF"/>
<rect x="312.02" y="502.25" width="10.84" height="10.89" fill="#30EFFF"/>
<rect x="322.86" y="502.25" width="10.84" height="10.89" fill="#40F1FF"/>
<rect x="333.7" y="502.25" width="10.84" height="10.89" fill="#30F7FF"/>
<rect x="290.34" y="513.14" width="10.84" height="10.89" fill="#FFFFFF"/>
<rect x="301.18" y="513.14" width="10.84" height="10.89" fill="#A8FCFF"/>
<rect x="312.02" y="513.14" width="10.84" height="10.89" fill="#FFFFFF"/>
<rect x="322.86" y="513.14" width="10.84" height="10.89" fill="#30E7FF"/>
<rect x="333.7" y="513.14" width="10.84" height="10.89" fill="#20C7FF"/>
<rect x="290.34" y="524.03" width="10.84" height="10.89" fill="#FFFFFF"/>
<rect x="301.18" y="524.03" width="10.84" height="10.89" fill="#FFFFFF"/>
<rect x="312.02" y="524.03" width="10.84" height="10.89" fill="#FFFFFF"/>
<rect x="322.86" y="524.03" width="10.84" height="10.89" fill="#FFFFFF"/>
<rect x="290.34" y="534.92" width="10.84" height="10.89" fill="#FFFFFF"/>
<g stroke="#FFFFFF"><line x1="279.5" y1="442.4" x2="279.5" y2="561.4" stroke-width="1.2"/><line x1="274.2" y1="556.7" x2="393.1" y2="556.7" stroke-width="1.2"/><line x1="290.34" y1="442.4" x2="290.34" y2="561.4" stroke-width="1.05"/><line x1="274.2" y1="545.81" x2="393.1" y2="545.81" stroke-width="1.05"/><line x1="301.18" y1="442.4" x2="301.18" y2="561.4" stroke-width="1.2"/><line x1="274.2" y1="534.92" x2="393.1" y2="534.92" stroke-width="1.2"/><line x1="312.02" y1="442.4" x2="312.02" y2="561.4" stroke-width="1.05"/><line x1="274.2" y1="524.03" x2="393.1" y2="524.03" stroke-width="1.05"/><line x1="322.86" y1="442.4" x2="322.86" y2="561.4" stroke-width="1.2"/><line x1="274.2" y1="513.14" x2="393.1" y2="513.14" stroke-width="1.2"/><line x1="333.7" y1="442.4" x2="333.7" y2="561.4" stroke-width="1.05"/><line x1="274.2" y1="502.25" x2="393.1" y2="502.25" stroke-width="1.05"/><line x1="344.54" y1="442.4" x2="344.54" y2="561.4" stroke-width="1.2"/><line x1="274.2" y1="491.36" x2="393.1" y2="491.36" stroke-width="1.2"/><line x1="355.38" y1="442.4" x2="355.38" y2="561.4" stroke-width="1.05"/><line x1="274.2" y1="480.47" x2="393.1" y2="480.47" stroke-width="1.05"/><line x1="366.22" y1="442.4" x2="366.22" y2="561.4" stroke-width="1.2"/><line x1="274.2" y1="469.58" x2="393.1" y2="469.58" stroke-width="1.2"/><line x1="377.06" y1="442.4" x2="377.06" y2="561.4" stroke-width="1.05"/><line x1="274.2" y1="458.69" x2="393.1" y2="458.69" stroke-width="1.05"/><line x1="387.9" y1="442.4" x2="387.9" y2="561.4" stroke-width="1.2"/><line x1="274.2" y1="447.8" x2="393.1" y2="447.8" stroke-width="1.2"/></g>
<rect x="275.4" y="443.6" width="116.5" height="116.6" fill="none" stroke="#F4F4F4" stroke-width="0.7"/>
<rect x="274.2" y="442.4" width="118.9" height="119" fill="none" stroke="#9C9C9C" stroke-width="1.2"/>
<path d="M274.2 442.4V561.4H393.1" fill="none" stroke="#737373" stroke-width="1.2"/>
<path d="M272.7 556.7H274.2M279.5 561.4V562.9M272.7 534.92H274.2M301.18 561.4V562.9M272.7 513.14H274.2M322.86 561.4V562.9M272.7 491.36H274.2M344.54 561.4V562.9M272.7 469.58H274.2M366.22 561.4V562.9M272.7 447.8H274.2M387.9 561.4V562.9" stroke="#4D4D4D" stroke-width="0.8"/>
<text transform="translate(272,560.35) scale(1,0.9)" font-size="10" text-anchor="end" fill="#000" stroke="#000" stroke-width="0.22" >0.0</text>
<text transform="translate(279.5,574.9) scale(1,1.0)" font-size="10" text-anchor="middle" fill="#000" stroke="#000" stroke-width="0.22" >0.0</text>
<text transform="translate(272,538.57) scale(1,0.9)" font-size="10" text-anchor="end" fill="#000" stroke="#000" stroke-width="0.22" >0.2</text>
<text transform="translate(301.18,574.9) scale(1,1.0)" font-size="10" text-anchor="middle" fill="#000" stroke="#000" stroke-width="0.22" >0.2</text>
<text transform="translate(272,516.79) scale(1,0.9)" font-size="10" text-anchor="end" fill="#000" stroke="#000" stroke-width="0.22" >0.4</text>
<text transform="translate(322.86,574.9) scale(1,1.0)" font-size="10" text-anchor="middle" fill="#000" stroke="#000" stroke-width="0.22" >0.4</text>
<text transform="translate(272,495.01) scale(1,0.9)" font-size="10" text-anchor="end" fill="#000" stroke="#000" stroke-width="0.22" >0.6</text>
<text transform="translate(344.54,574.9) scale(1,1.0)" font-size="10" text-anchor="middle" fill="#000" stroke="#000" stroke-width="0.22" >0.6</text>
<text transform="translate(272,473.23) scale(1,0.9)" font-size="10" text-anchor="end" fill="#000" stroke="#000" stroke-width="0.22" >0.8</text>
<text transform="translate(366.22,574.9) scale(1,1.0)" font-size="10" text-anchor="middle" fill="#000" stroke="#000" stroke-width="0.22" >0.8</text>
<text transform="translate(272,451.45) scale(1,0.9)" font-size="10" text-anchor="end" fill="#000" stroke="#000" stroke-width="0.22" >1.0</text>
<text transform="translate(387.9,574.9) scale(1,1.0)" font-size="10" text-anchor="middle" fill="#000" stroke="#000" stroke-width="0.22" >1.0</text>
<text transform="translate(331.75,594.8) scale(1,0.9)" font-size="10" text-anchor="middle" fill="#000" stroke="#000" stroke-width="0.22" >Fuel aridity</text>
<text transform="translate(247.2,501.9) rotate(-90)" x="0" y="0" font-size="10" text-anchor="middle" stroke="#000" stroke-width="0.22">Fine fuel load (kg C/m<tspan font-size="7" dy="-5.6">2</tspan><tspan dy="5.6">)</tspan></text>
<text transform="translate(333.65,439.2) scale(1,1.0)" font-size="8.0" text-anchor="middle" fill="#000" stroke="#000" stroke-width="0.18" >Changes in burn probability (%)</text>
<g fill="#000"><rect x="32.0" y="0" width="373.2" height="1.1"/><rect x="32.0" y="0" width="1.4" height="404.4"/><rect x="403.9" y="0" width="1.3" height="404.4"/><rect x="32.0" y="403.0" width="373.2" height="1.4"/></g>
<text transform="translate(151.6,18.2) scale(1,0.9)" font-size="10" text-anchor="middle" fill="#000" stroke="#000" stroke-width="0.22" >Climate change scenarios</text>
<text transform="translate(331.9,18.3) scale(1,0.9)" font-size="10" text-anchor="middle" fill="#000" stroke="#000" stroke-width="0.22" >No climate change scenarios</text>
<text transform="translate(513,18.3) scale(1,0.9)" font-size="10" text-anchor="middle" fill="#000" stroke="#000" stroke-width="0.22" >Climate change effects</text>
<text transform="translate(47.8,27.3) scale(1,0.94)" font-size="10" text-anchor="start" fill="#FF0000" stroke="#FF0000" stroke-width="0.22" >A.</text>
<text transform="translate(228.9,27.3) scale(1,0.94)" font-size="10" text-anchor="start" fill="#FF0000" stroke="#FF0000" stroke-width="0.22" >B.</text>
<text transform="translate(409.4,27.4) scale(1,0.94)" font-size="10" text-anchor="start" fill="#FF0000" stroke="#FF0000" stroke-width="0.22" >C.</text>
<text transform="translate(48.3,203.7) scale(1,0.94)" font-size="10" text-anchor="start" fill="#FF0000" stroke="#FF0000" stroke-width="0.22" >D.</text>
<text transform="translate(228.9,203.8) scale(1,0.94)" font-size="10" text-anchor="start" fill="#FF0000" stroke="#FF0000" stroke-width="0.22" >E.</text>
<text transform="translate(408.9,203.8) scale(1,0.94)" font-size="10" text-anchor="start" fill="#FF0000" stroke="#FF0000" stroke-width="0.22" >F.</text>
<text transform="translate(48.3,435.8) scale(1,0.94)" font-size="10" text-anchor="start" fill="#FF0000" stroke="#FF0000" stroke-width="0.22" >G.</text>
<text transform="translate(228.9,435.8) scale(1,0.94)" font-size="10" text-anchor="start" fill="#FF0000" stroke="#FF0000" stroke-width="0.22" >H.</text>
<text transform="translate(51.2,92) rotate(-90)" x="0" y="0" font-size="11.5" text-anchor="middle" stroke="#000" stroke-width="0.22">Exclusion scenarios</text>
<text transform="translate(51.2,272) rotate(-90)" x="0" y="0" font-size="11.5" text-anchor="middle" stroke="#000" stroke-width="0.22">No exclusion scenarios</text>
<text transform="translate(51.2,501) rotate(-90)" x="0" y="0" font-size="11.5" text-anchor="middle" stroke="#000" stroke-width="0.22">Exclusion effects</text>
<rect x="100.2" y="370.6" width="110.3" height="5.4" fill="url(#gred)"/>
<path d="M127.78 370.6V376M155.35 370.6V376M182.93 370.6V376" stroke="#FFFFFF" stroke-opacity="0.35" stroke-width="0.6"/>
<text transform="translate(100.2,385.6) scale(1,1.1)" font-size="9.1" text-anchor="middle" fill="#000" stroke="#000" stroke-width="0.2" >0.000</text>
<text transform="translate(127.78,385.6) scale(1,1.1)" font-size="9.1" text-anchor="middle" fill="#000" stroke="#000" stroke-width="0.2" >0.005</text>
<text transform="translate(155.35,385.6) scale(1,1.1)" font-size="9.1" text-anchor="middle" fill="#000" stroke="#000" stroke-width="0.2" >0.010</text>
<text transform="translate(182.93,385.6) scale(1,1.1)" font-size="9.1" text-anchor="middle" fill="#000" stroke="#000" stroke-width="0.2" >0.015</text>
<text transform="translate(210.5,385.6) scale(1,1.1)" font-size="9.1" text-anchor="middle" fill="#000" stroke="#000" stroke-width="0.2" >0.020</text>
<rect x="281.1" y="370.6" width="110.5" height="5.4" fill="url(#gred)"/>
<path d="M308.73 370.6V376M336.35 370.6V376M363.98 370.6V376" stroke="#FFFFFF" stroke-opacity="0.35" stroke-width="0.6"/>
<text transform="translate(281.1,385.6) scale(1,1.1)" font-size="9.1" text-anchor="middle" fill="#000" stroke="#000" stroke-width="0.2" >0.000</text>
<text transform="translate(308.73,385.6) scale(1,1.1)" font-size="9.1" text-anchor="middle" fill="#000" stroke="#000" stroke-width="0.2" >0.005</text>
<text transform="translate(336.35,385.6) scale(1,1.1)" font-size="9.1" text-anchor="middle" fill="#000" stroke="#000" stroke-width="0.2" >0.010</text>
<text transform="translate(363.98,385.6) scale(1,1.1)" font-size="9.1" text-anchor="middle" fill="#000" stroke="#000" stroke-width="0.2" >0.015</text>
<text transform="translate(391.6,385.6) scale(1,1.1)" font-size="9.1" text-anchor="middle" fill="#000" stroke="#000" stroke-width="0.2" >0.020</text>
<text transform="translate(495.2,483.1) scale(1,1.0)" font-size="9.3" text-anchor="middle" fill="#000" stroke="#000" stroke-width="0.2" >Changes in burn probability (%)</text>
<rect x="436.0" y="492.8" width="110.6" height="5.2" fill="url(#gchg)"/>
<text transform="translate(436,507) scale(1,1.0)" font-size="9.6" text-anchor="middle" fill="#000" stroke="#000" stroke-width="0.21" >−100</text>
<text transform="translate(463.5,507) scale(1,1.0)" font-size="9.6" text-anchor="middle" fill="#000" stroke="#000" stroke-width="0.21" >−50</text>
<text transform="translate(491,507) scale(1,1.0)" font-size="9.6" text-anchor="middle" fill="#000" stroke="#000" stroke-width="0.21" >0</text>
<text transform="translate(518.5,507) scale(1,1.0)" font-size="9.6" text-anchor="middle" fill="#000" stroke="#000" stroke-width="0.21" >50</text>
<text transform="translate(546,507) scale(1,1.0)" font-size="9.6" text-anchor="middle" fill="#000" stroke="#000" stroke-width="0.21" >100</text>
<path d="M392.7 91.3H401.4V88.6L415.8 96.3L401.4 104V101.3H392.7Z" fill="#E6192E"/>
<path d="M392.7 266.4H401.4V263.8L416 271.6L401.4 279.4V276.8H392.7Z" fill="#E6192E"/>
<path d="M150.5 398V407H147.6L155.8 421.3L164 407H161.1V398Z" fill="#E6192E"/>
<path d="M330.8 398V407H328L336.3 421.5L344.6 407H341.8V398Z" fill="#E6192E"/>
<text transform="translate(3.4,606.8) scale(1,1.0)" font-size="13" text-anchor="middle" fill="#000" stroke="#000" stroke-width="0.29" >0</text>
</svg></body></html>
